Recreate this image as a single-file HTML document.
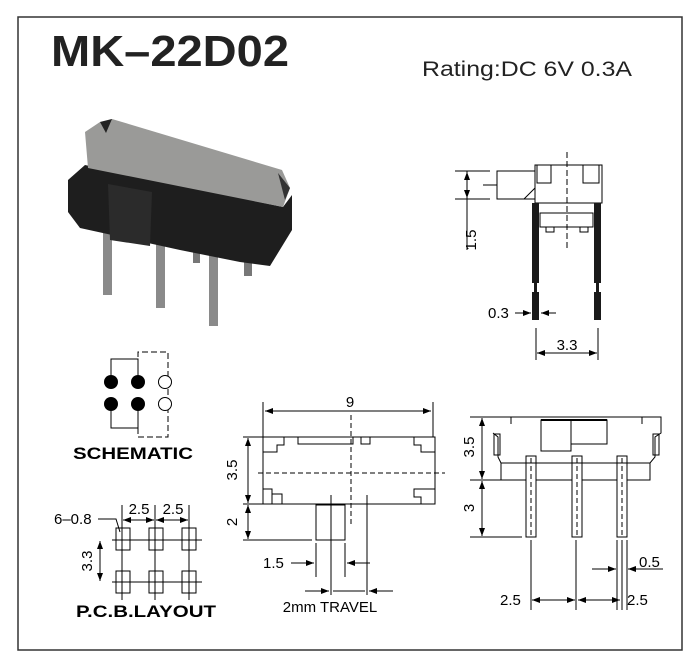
<!DOCTYPE html>
<html><head><style>
body{margin:0;background:#fff}
svg{display:block;font-family:"Liberation Sans",Arial,sans-serif}
</style></head><body>
<svg width="700" height="660" viewBox="0 0 700 660" xmlns="http://www.w3.org/2000/svg">
<defs>
<marker id="a" markerWidth="8" markerHeight="6" refX="8" refY="3" orient="auto" markerUnits="userSpaceOnUse"><path d="M0,0 L8,3 L0,6 z" fill="#000"/></marker>
<marker id="b" markerWidth="8" markerHeight="6" refX="0" refY="3" orient="auto" markerUnits="userSpaceOnUse"><path d="M8,0 L0,3 L8,6 z" fill="#000"/></marker>
</defs>
<rect x="0" y="0" width="700" height="660" fill="#fff"/>
<rect x="18" y="17" width="664" height="633" fill="none" stroke="#333" stroke-width="1.5"/>
<text x="51" y="66" font-size="44" font-weight="bold" fill="#222" textLength="238" lengthAdjust="spacingAndGlyphs">MK–22D02</text>
<text x="422" y="76" font-size="21" fill="#222" textLength="210" lengthAdjust="spacingAndGlyphs">Rating:DC 6V 0.3A</text>

<!-- photo -->
<g>
<rect x="103" y="225" width="9" height="70" fill="#8a8a8a"/>
<rect x="156" y="240" width="9" height="68" fill="#8a8a8a"/>
<rect x="209" y="255" width="9" height="71" fill="#8a8a8a"/>
<rect x="193" y="248" width="7" height="15" fill="#777"/>
<rect x="244" y="262" width="8" height="14" fill="#777"/>
<polygon points="68,180 85,165 283,207 292,195 292,230 270,266 240,262 180,250 80,228 68,212" fill="#1e1e1e"/>
<polygon points="85,132 100,122 112,119 282,170 290,188 283,207 88,168" fill="#9a9a98"/>
<polygon points="100,122 112,119 106,133" fill="#222"/>
<polygon points="278,173 290,188 285,200" fill="#333"/>
<polygon points="108,184 152,192 150,246 110,240" fill="#2b2b2b"/>
</g>

<!-- side view -->
<g stroke="#000" fill="none" stroke-width="1">
<line x1="567" y1="152" x2="567" y2="250" stroke-dasharray="6,3"/>
<rect x="535" y="165" width="67" height="38"/>
<rect x="537" y="165" width="14" height="18"/><rect x="583" y="165" width="16" height="18"/>
<rect x="497" y="171" width="38" height="28"/>
<line x1="535" y1="188" x2="524" y2="199"/>
<rect x="540" y="213" width="53" height="14"/>
<rect x="546" y="227" width="8" height="5"/><rect x="580" y="227" width="8" height="5"/>
<line x1="455" y1="171" x2="490" y2="171"/><line x1="455" y1="199" x2="490" y2="199"/><line x1="483" y1="185" x2="497" y2="185"/>
<line x1="467" y1="171" x2="467" y2="250"/>
<line x1="467" y1="185" x2="467" y2="172" marker-end="url(#a)"/><line x1="467" y1="185" x2="467" y2="198" marker-end="url(#a)"/>
<line x1="536" y1="328" x2="536" y2="360"/><line x1="598" y1="328" x2="598" y2="360"/>
<line x1="537" y1="353" x2="597" y2="353" marker-start="url(#b)" marker-end="url(#a)"/>
<line x1="515" y1="313" x2="531" y2="313" marker-end="url(#a)"/><line x1="556" y1="313" x2="541" y2="313" marker-end="url(#a)"/>
</g>
<g fill="#1a1a1a">
<rect x="532" y="203" width="7" height="80"/><rect x="594" y="203" width="7" height="80"/>
<rect x="534" y="283" width="3" height="10"/><rect x="596" y="283" width="3" height="10"/>
<rect x="532" y="292" width="7" height="28"/><rect x="594" y="292" width="7" height="28"/>
</g>
<text x="472" y="240" font-size="15" transform="rotate(-90 472 240)" text-anchor="middle" dominant-baseline="middle">1.5</text>
<text x="488" y="318" font-size="15">0.3</text>
<text x="567" y="350" font-size="15" text-anchor="middle">3.3</text>

<!-- schematic -->
<g stroke="#000" fill="none" stroke-width="1">
<polyline points="111,375 111,359 138,359 138,375"/>
<polyline points="111,411 111,428 138,428 138,411"/>
<polyline points="138,375 138,352 168,352 168,437 138,437 138,411" stroke-dasharray="6,3"/>
<circle cx="165" cy="382" r="6.5" fill="#fff"/><circle cx="165" cy="404" r="6.5" fill="#fff"/>
</g>
<g fill="#000"><circle cx="111" cy="382" r="7"/><circle cx="138" cy="382" r="7"/><circle cx="111" cy="404" r="7"/><circle cx="138" cy="404" r="7"/></g>
<text x="133" y="459" font-size="17" font-weight="bold" text-anchor="middle" textLength="120" lengthAdjust="spacingAndGlyphs">SCHEMATIC</text>

<!-- PCB -->
<g stroke="#000" fill="none" stroke-width="1">
<rect x="116" y="528" width="14" height="22"/><rect x="149" y="528" width="14" height="22"/><rect x="182" y="528" width="14" height="22"/>
<rect x="116" y="571" width="14" height="22"/><rect x="149" y="571" width="14" height="22"/><rect x="182" y="571" width="14" height="22"/>
<line x1="122" y1="505" x2="122" y2="600"/><line x1="155" y1="505" x2="155" y2="600"/><line x1="189" y1="505" x2="189" y2="600"/>
<line x1="112" y1="540" x2="202" y2="540"/><line x1="112" y1="582" x2="202" y2="582"/>
<line x1="123" y1="520" x2="154" y2="520" marker-start="url(#b)" marker-end="url(#a)"/>
<line x1="156" y1="520" x2="188" y2="520" marker-start="url(#b)" marker-end="url(#a)"/>
<line x1="100" y1="541" x2="100" y2="581" marker-start="url(#b)" marker-end="url(#a)"/>
<polyline points="98,519 116,519 120,532"/>
</g>
<text x="54" y="524" font-size="15">6–0.8</text>
<text x="139" y="514" font-size="15" text-anchor="middle">2.5</text>
<text x="173" y="514" font-size="15" text-anchor="middle">2.5</text>
<text x="88" y="561" font-size="15" text-anchor="middle" dominant-baseline="middle" transform="rotate(-90 88 561)">3.3</text>
<text x="146" y="617" font-size="17" font-weight="bold" text-anchor="middle" textLength="140" lengthAdjust="spacingAndGlyphs">P.C.B.LAYOUT</text>

<!-- top view -->
<g stroke="#000" fill="none" stroke-width="1">
<rect x="263" y="437" width="172" height="67"/>
<polyline points="263,437 284,437 284,445 277,445 277,452 263,452"/>
<polyline points="435,437 414,437 414,445 421,445 421,452 435,452"/>
<rect x="263" y="489" width="9" height="15"/><rect x="272" y="494" width="10" height="10"/>
<polyline points="435,489 414,489 414,497 421,497 421,504"/>
<rect x="298" y="437" width="55" height="7"/><rect x="361" y="437" width="9" height="7"/>
<line x1="263" y1="402" x2="263" y2="437"/><line x1="433" y1="402" x2="433" y2="437"/>
<line x1="265" y1="411" x2="431" y2="411" marker-start="url(#b)" marker-end="url(#a)"/>
<line x1="351" y1="415" x2="351" y2="527" stroke-dasharray="5,3"/>
<line x1="258" y1="473" x2="445" y2="473" stroke-dasharray="5,3"/>
<rect x="316" y="505" width="29" height="35"/>
<line x1="243" y1="437" x2="263" y2="437"/><line x1="243" y1="504" x2="263" y2="504"/><line x1="243" y1="540" x2="312" y2="540"/>
<line x1="248" y1="438" x2="248" y2="503" marker-start="url(#b)" marker-end="url(#a)"/>
<line x1="248" y1="505" x2="248" y2="539" marker-start="url(#b)" marker-end="url(#a)"/>
<line x1="316" y1="543" x2="316" y2="577"/><line x1="345" y1="543" x2="345" y2="577"/>
<line x1="331" y1="495" x2="331" y2="595"/><line x1="367" y1="495" x2="367" y2="595"/>
<line x1="291" y1="563" x2="314" y2="563" marker-end="url(#a)"/>
<line x1="370" y1="563" x2="347" y2="563" marker-end="url(#a)"/>
<line x1="305" y1="591" x2="329" y2="591" marker-end="url(#a)"/>
<line x1="333" y1="591" x2="365" y2="591"/>
<line x1="393" y1="591" x2="369" y2="591" marker-end="url(#a)"/>
</g>
<text x="350" y="407" font-size="15" text-anchor="middle">9</text>
<text x="233" y="470" font-size="15" text-anchor="middle" dominant-baseline="middle" transform="rotate(-90 233 470)">3.5</text>
<text x="233" y="522" font-size="15" text-anchor="middle" dominant-baseline="middle" transform="rotate(-90 233 522)">2</text>
<text x="263" y="568" font-size="15">1.5</text>
<text x="330" y="612" font-size="15" text-anchor="middle">2mm TRAVEL</text>

<!-- front view -->
<g stroke="#000" fill="none" stroke-width="1">
<polyline points="511,424 511,417 642,417 642,424"/>
<polyline points="493,417 661,417 661,433 655,437 655,457 650,463 501,463 498,457 498,437 493,433 z"/>
<rect x="494" y="434" width="6" height="21"/><rect x="653" y="434" width="6" height="21"/>
<rect x="501" y="463" width="149" height="17"/>
<rect x="541" y="420" width="30" height="31"/><rect x="571" y="420" width="36" height="24"/>
<line x1="541" y1="420" x2="607" y2="420" stroke-width="2"/>
<rect x="526" y="456" width="10" height="81" fill="#fff"/>
<rect x="572" y="456" width="10" height="81" fill="#fff"/>
<rect x="617" y="456" width="10" height="81" fill="#fff"/>
<line x1="531" y1="458" x2="531" y2="535" stroke-dasharray="5,3"/>
<line x1="577" y1="458" x2="577" y2="535" stroke-dasharray="5,3"/>
<line x1="622" y1="458" x2="622" y2="535" stroke-dasharray="5,3"/>
<line x1="526" y1="463" x2="536" y2="463"/><line x1="572" y1="463" x2="582" y2="463"/><line x1="617" y1="463" x2="627" y2="463"/>
<line x1="470" y1="417" x2="493" y2="417"/><line x1="470" y1="480" x2="501" y2="480"/><line x1="470" y1="537" x2="522" y2="537"/>
<line x1="482" y1="418" x2="482" y2="479" marker-start="url(#b)" marker-end="url(#a)"/>
<line x1="482" y1="481" x2="482" y2="536" marker-start="url(#b)" marker-end="url(#a)"/>
<line x1="531" y1="540" x2="531" y2="610"/><line x1="576" y1="540" x2="576" y2="610"/>
<line x1="617" y1="540" x2="617" y2="610"/><line x1="622" y1="540" x2="622" y2="610"/><line x1="627" y1="540" x2="627" y2="610"/>
<line x1="532" y1="600" x2="575" y2="600" marker-start="url(#b)" marker-end="url(#a)"/>
<line x1="578" y1="600" x2="620" y2="600" marker-start="url(#b)" marker-end="url(#a)"/>
<line x1="592" y1="569" x2="616" y2="569" marker-end="url(#a)"/>
<line x1="663" y1="569" x2="628" y2="569" marker-end="url(#a)"/>
</g>
<text x="470" y="447" font-size="15" text-anchor="middle" dominant-baseline="middle" transform="rotate(-90 470 447)">3.5</text>
<text x="470" y="508" font-size="15" text-anchor="middle" dominant-baseline="middle" transform="rotate(-90 470 508)">3</text>
<text x="500" y="605" font-size="15">2.5</text>
<text x="627" y="605" font-size="15">2.5</text>
<text x="639" y="567" font-size="15">0.5</text>
</svg>
</body></html>
